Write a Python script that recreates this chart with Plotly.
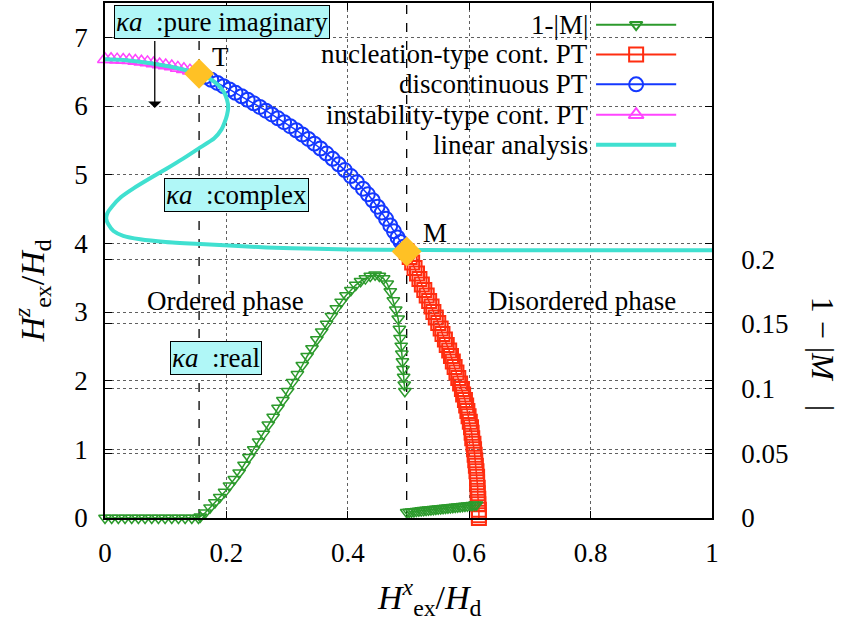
import plotly.graph_objects as go

# ---------------- data ----------------
# 1-|M| (right axis)
green_x = [0.0, 0.011, 0.022, 0.033, 0.044, 0.055, 0.066, 0.077, 0.088, 0.099, 0.110, 0.121, 0.132, 0.143, 0.154,
           0.157, 0.165, 0.173, 0.181, 0.189, 0.197, 0.205, 0.213, 0.221, 0.229, 0.237, 0.245, 0.253, 0.261, 0.269,
           0.277, 0.285, 0.293, 0.301, 0.309, 0.317, 0.325, 0.333, 0.341, 0.349, 0.357, 0.365, 0.373, 0.381, 0.389,
           0.397, 0.405, 0.413, 0.421, 0.429, 0.437, 0.445, 0.452, 0.459, 0.465, 0.470, 0.475, 0.479, 0.483, 0.485,
           0.486, 0.488, 0.489, 0.490, 0.491, 0.492, 0.493, 0.494]
green_y = [0.0, 0.0, 0.0, 0.0, 0.0, 0.0, 0.0, 0.0, 0.0, 0.0, 0.0, 0.0, 0.0, 0.0, 0.0,
           0.001, 0.004, 0.008, 0.012, 0.016, 0.020, 0.025, 0.030, 0.035, 0.041, 0.047, 0.053, 0.059, 0.065, 0.072,
           0.078, 0.085, 0.091, 0.098, 0.105, 0.111, 0.118, 0.125, 0.131, 0.138, 0.144, 0.150, 0.156, 0.162, 0.167,
           0.172, 0.176, 0.180, 0.183, 0.185, 0.187, 0.188, 0.187, 0.185, 0.181, 0.175, 0.168, 0.161, 0.154, 0.146,
           0.139, 0.133, 0.127, 0.121, 0.115, 0.109, 0.103, 0.098]
green2_x = [0.497, 0.501, 0.505, 0.509, 0.513, 0.517, 0.521, 0.525, 0.529, 0.533, 0.537, 0.541, 0.545, 0.549, 0.553,
            0.557, 0.561, 0.565, 0.569, 0.573, 0.577, 0.581, 0.585, 0.589, 0.593, 0.597, 0.601, 0.605, 0.609, 0.612]
green2_y = [0.0045, 0.0047, 0.0049, 0.0051, 0.0053, 0.0055, 0.0057, 0.0059, 0.0061, 0.0063, 0.0065, 0.0067, 0.0069,
            0.0071, 0.0073, 0.0075, 0.0077, 0.0079, 0.0081, 0.0083, 0.0085, 0.0087, 0.0089, 0.0091, 0.0093, 0.0095,
            0.0097, 0.0099, 0.0101, 0.0103]

# nucleation-type continuous PT
red_x = [0.497, 0.502, 0.506, 0.510, 0.514, 0.518, 0.522, 0.526, 0.530, 0.534, 0.538, 0.541, 0.545, 0.549, 0.553,
         0.556, 0.560, 0.563, 0.567, 0.570, 0.573, 0.576, 0.579, 0.582, 0.585, 0.588, 0.590, 0.593, 0.595, 0.597,
         0.599, 0.601, 0.603, 0.604, 0.605, 0.607, 0.608, 0.609, 0.610, 0.611, 0.612, 0.613, 0.613, 0.614, 0.614,
         0.615, 0.615, 0.616, 0.616, 0.616]
red_y = [3.88, 3.80, 3.72, 3.64, 3.56, 3.48, 3.40, 3.32, 3.24, 3.16, 3.08, 3.00, 2.92, 2.84, 2.76,
         2.68, 2.60, 2.52, 2.44, 2.36, 2.28, 2.20, 2.12, 2.04, 1.96, 1.88, 1.80, 1.72, 1.64, 1.56,
         1.48, 1.40, 1.32, 1.24, 1.16, 1.08, 1.00, 0.92, 0.84, 0.76, 0.68, 0.60, 0.52, 0.44, 0.36,
         0.28, 0.20, 0.12, 0.04, 0.00]

# discontinuous PT
blue_x = [0.155, 0.165, 0.175, 0.185, 0.195, 0.205, 0.215, 0.225, 0.235, 0.245, 0.255, 0.265, 0.275, 0.285, 0.295,
          0.305, 0.315, 0.325, 0.335, 0.345, 0.355, 0.365, 0.375, 0.385, 0.395, 0.405, 0.415, 0.425, 0.433, 0.441,
          0.449, 0.456, 0.463, 0.470, 0.476, 0.482, 0.487, 0.492, 0.497]
blue_y = [6.470, 6.427, 6.382, 6.336, 6.289, 6.241, 6.192, 6.142, 6.091, 6.039, 5.986, 5.932, 5.877, 5.821, 5.764,
          5.706, 5.647, 5.585, 5.520, 5.452, 5.381, 5.307, 5.230, 5.150, 5.067, 4.980, 4.890, 4.796, 4.714, 4.627,
          4.534, 4.448, 4.357, 4.261, 4.175, 4.086, 4.020, 3.950, 3.880]

# instability-type continuous PT
mag_x = [0.0, 0.01, 0.02, 0.03, 0.04, 0.05, 0.06, 0.07, 0.08, 0.09, 0.10, 0.11, 0.12, 0.13, 0.14, 0.15]
mag_y = [6.68, 6.68, 6.675, 6.67, 6.665, 6.655, 6.645, 6.635, 6.62, 6.605, 6.59, 6.575, 6.555, 6.535, 6.515, 6.49]

# linear analysis
cyan_x = [0.000, 0.030, 0.060, 0.090, 0.120, 0.155, 0.172, 0.186, 0.196, 0.201, 0.203, 0.201, 0.197, 0.192, 0.180,
          0.154, 0.128, 0.102, 0.075, 0.047, 0.026, 0.012, 0.004, 0.002, 0.006, 0.014, 0.030, 0.058, 0.100, 0.157,
          0.266, 0.350, 0.450, 0.600, 1.000]
cyan_y = [6.68, 6.67, 6.64, 6.60, 6.55, 6.47, 6.40, 6.31, 6.20, 6.09, 5.98, 5.87, 5.76, 5.66, 5.53,
          5.38, 5.23, 5.09, 4.95, 4.80, 4.67, 4.54, 4.44, 4.36, 4.27, 4.18, 4.11, 4.06, 4.02, 3.99,
          3.94, 3.92, 3.905, 3.90, 3.90]

# special points T and M
pt_x = [0.155, 0.497]
pt_y = [6.47, 3.88]
pt_labels = ["T", "M"]

x_ticks = [0, 0.2, 0.4, 0.6, 0.8, 1]
x_ticklabels = ["0", "0.2", "0.4", "0.6", "0.8", "1"]
y_ticks = [0, 1, 2, 3, 4, 5, 6, 7]
y2_ticks = [0, 0.05, 0.1, 0.15, 0.2]
y2_ticklabels = ["0", "0.05", "0.1", "0.15", "0.2"]

legend_names = ["1-|M|", "nucleation-type cont. PT", "discontinuous PT", "instability-type cont. PT", "linear analysis"]

# ---------------- style ----------------
FONT = "Liberation Serif"
C_GREEN = "#2c9a2c"
C_RED = "#ff2d10"
C_BLUE = "#1438ff"
C_MAG = "#ff45ff"
C_CYAN = "#40e0d0"
C_GOLD = "#ffc125"
BOXC = "#b0f7f7"
GRID = "#606060"

fig = go.Figure()

gstyle = dict(mode="lines+markers", line=dict(color=C_GREEN, width=1.5),
              marker=dict(symbol="triangle-down-open", size=11, color=C_GREEN, line=dict(width=1.5, color=C_GREEN)),
              yaxis="y2", showlegend=False, cliponaxis=False)
fig.add_trace(go.Scatter(x=green_x, y=green_y, **gstyle))
fig.add_trace(go.Scatter(x=green2_x, y=green2_y, **gstyle))

fig.add_trace(go.Scatter(x=red_x, y=red_y, mode="lines+markers", line=dict(color=C_RED, width=1.5),
                         marker=dict(symbol="square-open", size=14, color=C_RED, line=dict(width=2, color=C_RED)),
                         showlegend=False, cliponaxis=False))
fig.add_trace(go.Scatter(x=blue_x, y=blue_y, mode="lines+markers", line=dict(color=C_BLUE, width=1.5),
                         marker=dict(symbol="circle-open", size=14, color=C_BLUE, line=dict(width=2, color=C_BLUE)),
                         showlegend=False, cliponaxis=False))
fig.add_trace(go.Scatter(x=mag_x, y=mag_y, mode="lines+markers", line=dict(color=C_MAG, width=1.5),
                         marker=dict(symbol="triangle-up-open", size=13, color=C_MAG, line=dict(width=1.5, color=C_MAG)),
                         showlegend=False, cliponaxis=False))
fig.add_trace(go.Scatter(x=cyan_x, y=cyan_y, mode="lines", line=dict(color=C_CYAN, width=4, shape="spline", smoothing=0.6),
                         showlegend=False))
fig.add_trace(go.Scatter(x=pt_x, y=pt_y, mode="markers",
                         marker=dict(symbol="diamond", size=23, color=C_GOLD, line=dict(width=0)),
                         showlegend=False, cliponaxis=False))

# ---------------- custom legend (text left, sample right) ----------------
leg_rows = [0.958, 0.900, 0.842, 0.783, 0.725]
leg_cols = [C_GREEN, C_RED, C_BLUE, C_MAG, C_CYAN]
leg_syms = ["triangle-down-open", "square-open", "circle-open", "triangle-up-open", None]
leg_sizes = [11, 14, 14, 13, 0]
shapes = []
annotations = []
# opaque key background (covers grid only)
shapes.append(dict(type="rect", xref="x", yref="paper", x0=0.033, x1=0.969, y0=0.69, y1=1.0,
                   fillcolor="white", line=dict(width=0), layer="between"))
for i, name in enumerate(legend_names):
    yy = leg_rows[i]
    annotations.append(dict(xref="paper", yref="paper", x=0.799, y=yy, xanchor="right", yanchor="middle",
                            text=name, showarrow=False, font=dict(family=FONT, size=27, color="black")))
    shapes.append(dict(type="line", xref="paper", yref="paper", x0=0.809, x1=0.941, y0=yy, y1=yy,
                       line=dict(color=leg_cols[i], width=4 if i == 4 else 2)))
    if leg_syms[i]:
        fig.add_trace(go.Scatter(x=[0.875], y=[yy], xaxis="x3", yaxis="y3", mode="markers",
                                 marker=dict(symbol=leg_syms[i], size=leg_sizes[i], color=leg_cols[i],
                                             line=dict(width=2, color=leg_cols[i])),
                                 showlegend=False, hoverinfo="skip"))

# dashed vertical lines at T and M
for xv in pt_x:
    shapes.append(dict(type="line", xref="x", yref="paper", x0=xv, x1=xv, y0=0, y1=1,
                       line=dict(color="black", width=1.3, dash="dash"), layer="between"))

# labels T, M
annotations.append(dict(x=0.19, y=6.71, text=pt_labels[0], showarrow=False, font=dict(family=FONT, size=27, color="black")))
annotations.append(dict(x=0.544, y=4.15, text=pt_labels[1], showarrow=False, font=dict(family=FONT, size=27, color="black")))

# kappa-a boxes
def box(x, y, txt):
    return dict(x=x, y=y, text=txt, showarrow=False, bgcolor=BOXC, bordercolor="black", borderwidth=1,
                borderpad=1, font=dict(family=FONT, size=27, color="black"))

annotations.append(box(0.193, 7.22, "<i>κa</i>  :pure imaginary"))
annotations.append(box(0.217, 4.71, "<i>κa</i>  :complex"))
annotations.append(box(0.183, 2.33, "<i>κa</i>  :real"))

# arrow
annotations.append(dict(x=0.082, y=5.97, ax=0.082, ay=6.97, axref="x", ayref="y", text="", showarrow=True,
                        arrowhead=1, arrowsize=1.7, arrowwidth=1.3, arrowcolor="black"))

# phase labels
annotations.append(dict(x=0.198, y=3.16, text="Ordered phase", showarrow=False, font=dict(family=FONT, size=27, color="black")))
annotations.append(dict(x=0.785, y=3.16, text="Disordered phase", showarrow=False, font=dict(family=FONT, size=27, color="black")))

# axis titles
annotations.append(dict(xref="paper", yref="paper", x=0.535, y=-0.155, xanchor="center", yanchor="middle",
                        text="<i>H</i><sup><i>x</i></sup><sub>ex</sub>/<i>H</i><sub>d</sub>", showarrow=False,
                        font=dict(family=FONT, size=34, color="black")))
annotations.append(dict(xref="paper", yref="paper", x=-0.12, y=0.44, xanchor="center", yanchor="middle", textangle=-90,
                        text="<i>H</i><sup><i>z</i></sup><sub>ex</sub>/<i>H</i><sub>d</sub>", showarrow=False,
                        font=dict(family=FONT, size=34, color="black")))
annotations.append(dict(xref="paper", yref="paper", x=1.183, y=0.319, xanchor="center", yanchor="middle", textangle=90,
                        text="1 − |<i>M⃗</i>|", showarrow=False,
                        font=dict(family=FONT, size=32, color="black")))

axis_common = dict(showline=True, linecolor="black", linewidth=1.5, ticks="inside", ticklen=7, tickcolor="black",
                   zeroline=False, showgrid=True, gridcolor=GRID, griddash="dot", gridwidth=1,
                   tickfont=dict(family=FONT, size=27, color="black"))

fig.update_layout(
    width=856, height=627,
    margin=dict(l=105, r=144, t=1, b=109),
    paper_bgcolor="white", plot_bgcolor="white",
    font=dict(family=FONT, color="black"),
    xaxis=dict(range=[0, 1], tickvals=x_ticks, ticktext=x_ticklabels, mirror="ticks", ticklabelstandoff=10,
               **axis_common),
    yaxis=dict(range=[0, 7.5], tickvals=y_ticks, mirror="ticks", ticklabelstandoff=10, **axis_common),
    yaxis2=dict(range=[0, 0.398], tickvals=y2_ticks, ticktext=y2_ticklabels, overlaying="y", side="right",
                mirror="ticks", ticklabelstandoff=22, **axis_common),
    xaxis3=dict(range=[0, 1], overlaying="x", visible=False, anchor="y3"),
    yaxis3=dict(range=[0, 1], overlaying="y", visible=False, anchor="x3"),
    shapes=shapes,
    annotations=annotations,
)

fig.write_html("out.html")
